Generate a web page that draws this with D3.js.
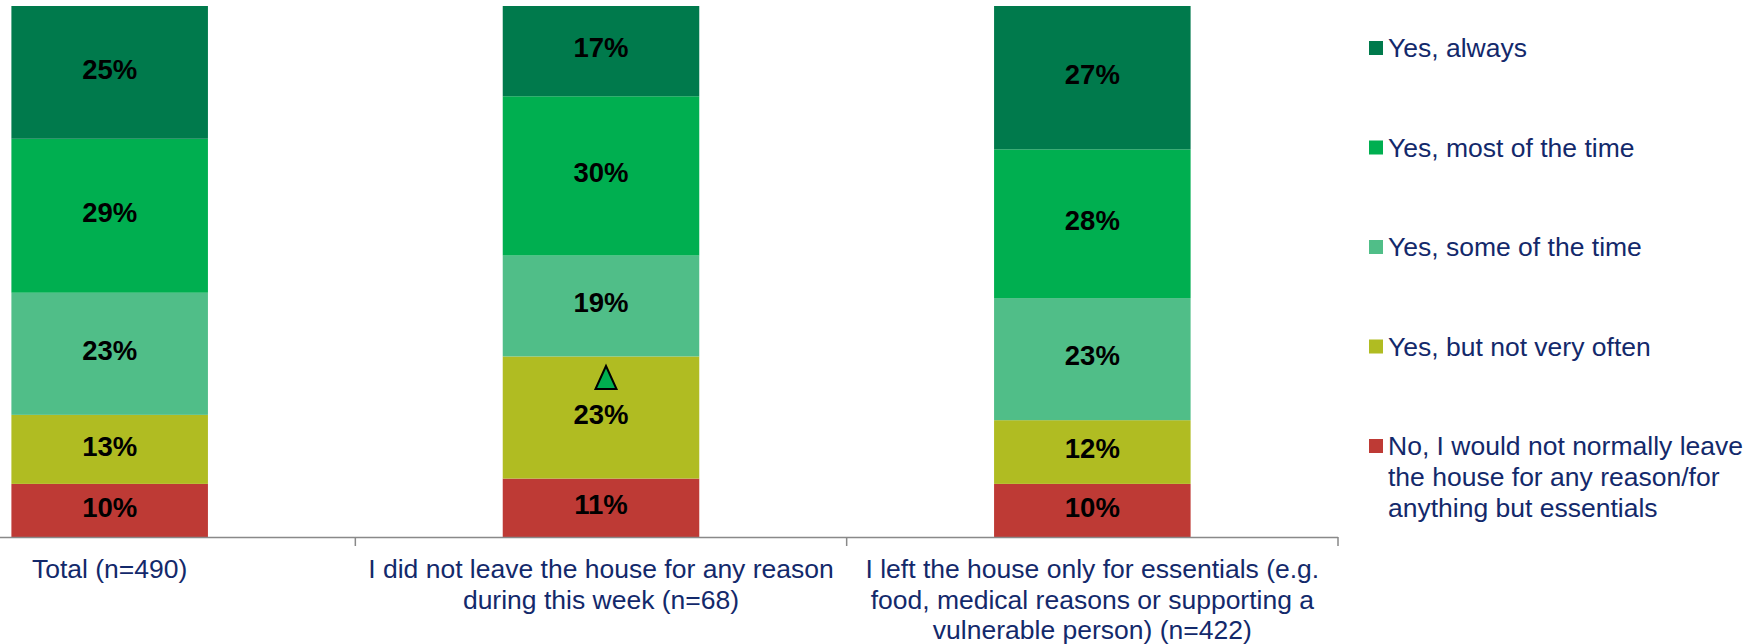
<!DOCTYPE html>
<html>
<head>
<meta charset="utf-8">
<script src="https://cdn.jsdelivr.net/npm/d3@7"></script>
<style>
  body { margin: 0; background: #fff; }
  text { font-family: "Liberation Sans", Arial, sans-serif; }
</style>
</head>
<body>
<div id="chart"></div>
<script>
(function(){
    var width = 1757,
        height = 644;

    // categories (x axis), line breaks as in the original
    var categories = [
      "Total (n=490)",
      "I did not leave the house for any reason\nduring this week (n=68)",
      "I left the house only for essentials (e.g.\nfood, medical reasons or supporting a\nvulnerable person) (n=422)"
    ]

    // series, bottom to top of the stack
    var seriesNames = [
      "No, I would not normally leave\nthe house for any reason/for\nanything but essentials",
      "Yes, but not very often",
      "Yes, some of the time",
      "Yes, most of the time",
      "Yes, always"
    ]
    var seriesColors = ["#be3a35", "#b0bc22", "#50be88", "#00af50", "#007a4c"]

    // percentages per series, one value per category
    var valNo        = [10, 11, 10]
    var valNotOften  = [13, 23, 12]
    var valSome      = [23, 19, 23]
    var valMost      = [29, 30, 28]
    var valAlways    = [25, 17, 27]

    // significant difference markers: category index, series index
    var sigMarks = [{cat: 1, series: 1}]

    var seriesVals = [valNo, valNotOften, valSome, valMost, valAlways]

    var rows = categories.map(function(c, i){
      var r = {cat: c}
      seriesNames.forEach(function(s, j){ r[s] = seriesVals[j][i] })
      return r
    })

    var stack = d3.stack().keys(seriesNames)
    var layers = stack(rows)

    var svg = d3.select("#chart")
      .append("svg")
      .attr("width", width)
      .attr("height", height)

    var x = d3.scaleBand()
      .domain(categories)
      .range([-136, 1338])
      .paddingInner(0.6)
      .paddingOuter(0.3)

    var y = d3.scaleLinear()
      .domain([0, 100])
      .range([537, 6])

    var color = d3.scaleOrdinal().domain(seriesNames).range(seriesColors)

    var layer = svg.selectAll(".layer")
      .data(layers)
      .enter().append("g")
      .attr("class", "layer")
      .attr("fill", function(d){ return color(d.key) })

    layer.selectAll("rect")
      .data(function(d){ return d })
      .enter().append("rect")
      .attr("x", function(d){ return x(d.data.cat) })
      .attr("width", x.bandwidth())
      .attr("y", function(d){ return y(d[1]) })
      .attr("height", function(d){ return y(d[0]) - y(d[1]) })

    // value labels
    layer.selectAll(".val")
      .data(function(d){ return d })
      .enter().append("text")
      .attr("class", "val")
      .attr("x", function(d){ return x(d.data.cat) + x.bandwidth()/2 })
      .attr("y", function(d){ return (y(d[0]) + y(d[1]))/2 })
      .attr("dy", "0.23em")
      .attr("text-anchor", "middle")
      .attr("fill", "#000")
      .style("font-size", "27.5px")
      .style("font-weight", "bold")
      .text(function(d){ return (d[1] - d[0]) + "%" })

    // up triangles for significant differences
    var tri = d3.line()
    sigMarks.forEach(function(m){
      var seg = layers[m.series][m.cat]
      var cx = x(categories[m.cat]) + x.bandwidth()/2 + 5
      var cy = (y(seg[0]) + y(seg[1]))/2 - 40
      svg.append("path")
        .attr("d", tri([[cx, cy - 11.5], [cx + 10.5, cy + 11.5], [cx - 10.5, cy + 11.5]]) + "Z")
        .attr("fill", "#00af50")
        .attr("stroke", "#000")
        .attr("stroke-width", 2)
        .attr("stroke-linejoin", "miter")
    })

    // x axis: baseline plus ticks between the bands
    var axisColor = "#898989"
    svg.append("line")
      .attr("x1", 0).attr("x2", x.range()[1])
      .attr("y1", y(0) + 0.5).attr("y2", y(0) + 0.5)
      .attr("stroke", axisColor)
      .attr("stroke-width", 1.5)

    var step = x.step()
    svg.selectAll(".tick")
      .data(categories)
      .enter().append("line")
      .attr("class", "tick")
      .attr("x1", function(d){ return x(d) + x.bandwidth() + step*x.paddingInner()/2 })
      .attr("x2", function(d){ return x(d) + x.bandwidth() + step*x.paddingInner()/2 })
      .attr("y1", y(0))
      .attr("y2", y(0) + 9)
      .attr("stroke", axisColor)
      .attr("stroke-width", 1.5)

    var textColor = "#13296b"

    var catLabel = svg.selectAll(".cat")
      .data(categories)
      .enter().append("text")
      .attr("class", "cat")
      .attr("text-anchor", "middle")
      .attr("fill", textColor)
      .style("font-size", "26.5px")

    catLabel.selectAll("tspan")
      .data(function(d){ return d.split("\n").map(function(l){ return {line: l, cat: d} }) })
      .enter().append("tspan")
      .attr("x", function(d){ return x(d.cat) + x.bandwidth()/2 })
      .attr("y", function(d, i){ return 578 + i*30.5 })
      .text(function(d){ return d.line })

    // legend, top item first
    var legendOrder = seriesNames.slice().reverse()
    var legend = svg.selectAll(".legend")
      .data(legendOrder)
      .enter().append("g")
      .attr("class", "legend")
      .attr("transform", function(d, i){ return "translate(1369," + (48 + i*99.5) + ")" })

    legend.append("rect")
      .attr("x", 0)
      .attr("y", -7)
      .attr("width", 14)
      .attr("height", 14)
      .attr("fill", function(d){ return color(d) })

    legend.append("text")
      .attr("fill", textColor)
      .style("font-size", "26.5px")
      .selectAll("tspan")
      .data(function(d){ return d.split("\n") })
      .enter().append("tspan")
      .attr("x", 19)
      .attr("y", function(d, i){ return 9 + i*31 })
      .text(function(d){ return d })

})();
</script>
</body>
</html>
